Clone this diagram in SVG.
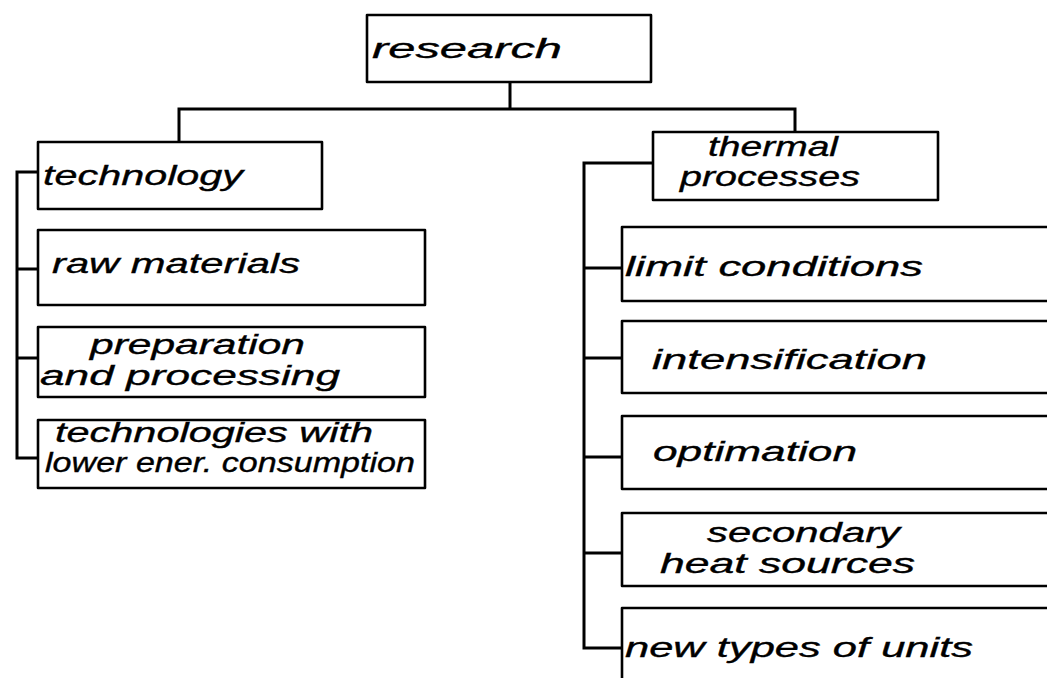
<svg xmlns="http://www.w3.org/2000/svg" width="1047" height="678" viewBox="0 0 1047 678">
<style>
.box{fill:#fff;stroke:#000;stroke-width:2.6;stroke-linejoin:round}
.c{fill:none;stroke:#000;stroke-width:3;stroke-linejoin:miter;stroke-linecap:square}
text{font-family:"Liberation Sans","DejaVu Sans",sans-serif;font-style:italic;font-size:27px;fill:#000;stroke:#000;stroke-width:0.35}
</style>
<rect width="1047" height="678" fill="#fff"/>
<g id="connectors">
<path class="c" d="M510 82V109M179 142V109H795V132"/>
<path class="c" d="M38 172H17V458H38M17 269H38M17 358H38"/>
<path class="c" d="M653 163H584V648H622M584 268H622M584 358H622M584 457H622M584 553H622"/>
</g>
<g id="research">
<rect class="box" x="367" y="15" width="284" height="67"/>
<text x="372" y="58" textLength="190" lengthAdjust="spacingAndGlyphs">research</text>
</g>
<g id="technology">
<rect class="box" x="38" y="142" width="284" height="67"/>
<text x="43" y="185" textLength="200" lengthAdjust="spacingAndGlyphs">technology</text>
</g>
<g id="raw-materials">
<rect class="box" x="38" y="230" width="387" height="75"/>
<text x="52" y="273" textLength="248" lengthAdjust="spacingAndGlyphs">raw materials</text>
</g>
<g id="preparation">
<rect class="box" x="38" y="327" width="387" height="70"/>
<text x="90" y="354" textLength="215" lengthAdjust="spacingAndGlyphs">preparation</text>
<text x="40" y="385" textLength="300" lengthAdjust="spacingAndGlyphs">and processing</text>
</g>
<g id="technologies-lower">
<rect class="box" x="38" y="420" width="387" height="68"/>
<text x="55" y="442" textLength="318" lengthAdjust="spacingAndGlyphs">technologies with</text>
<text x="45" y="472" textLength="370" lengthAdjust="spacingAndGlyphs">lower ener. consumption</text>
</g>
<g id="thermal-processes">
<rect class="box" x="653" y="132" width="285" height="68"/>
<text x="708" y="156" textLength="130" lengthAdjust="spacingAndGlyphs">thermal</text>
<text x="680" y="186" textLength="180" lengthAdjust="spacingAndGlyphs">processes</text>
</g>
<g id="limit-conditions">
<rect class="box" x="622" y="227" width="440" height="74"/>
<text x="625" y="276" textLength="298" lengthAdjust="spacingAndGlyphs">limit conditions</text>
</g>
<g id="intensification">
<rect class="box" x="622" y="321" width="440" height="72"/>
<text x="652" y="369" textLength="275" lengthAdjust="spacingAndGlyphs">intensification</text>
</g>
<g id="optimation">
<rect class="box" x="622" y="416" width="440" height="73"/>
<text x="653" y="461" textLength="204" lengthAdjust="spacingAndGlyphs">optimation</text>
</g>
<g id="secondary-heat-sources">
<rect class="box" x="622" y="513" width="440" height="73"/>
<text x="707" y="542" textLength="193" lengthAdjust="spacingAndGlyphs">secondary</text>
<text x="660" y="573" textLength="255" lengthAdjust="spacingAndGlyphs">heat sources</text>
</g>
<g id="new-types">
<rect class="box" x="622" y="608" width="440" height="90"/>
<text x="625" y="657" textLength="348" lengthAdjust="spacingAndGlyphs">new types of units</text>
</g>
</svg>
